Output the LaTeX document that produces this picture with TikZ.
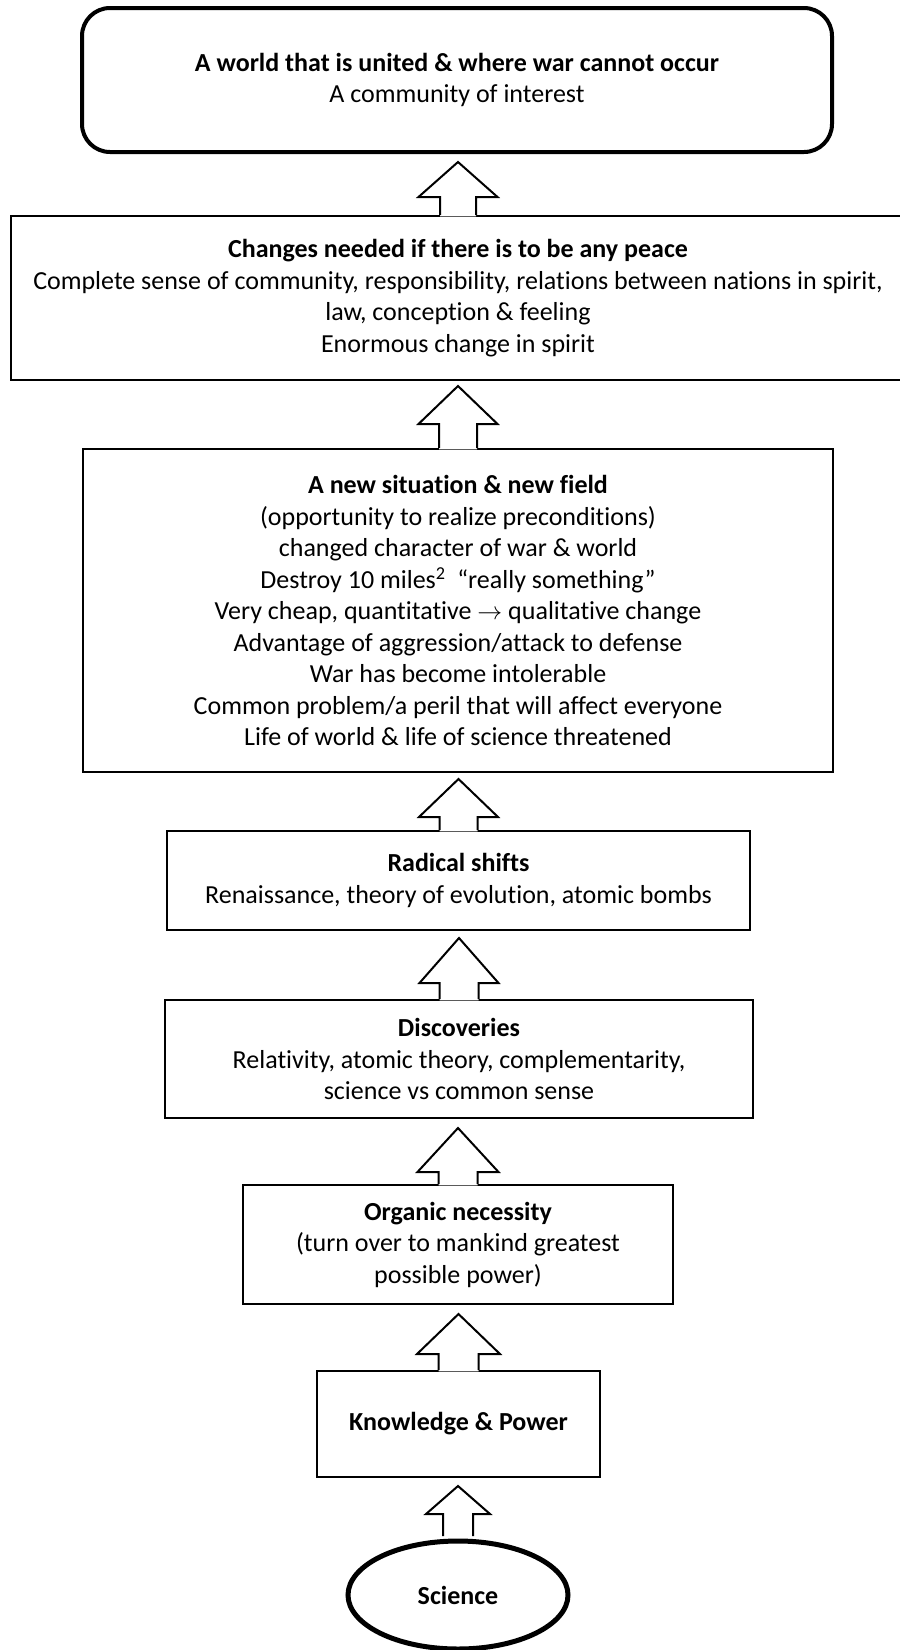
\documentclass[tikz,border=0pt]{standalone}
\usepackage{fontspec}
\setmainfont{Carlito}[Ligatures=NoCommon]
\usetikzlibrary{shapes.geometric,calc}

% Hollow block arrow pointing up from the top of #1 to just below #2.
% #3 shaft half width, #4 head half width, #5 head height, #6 gap under #2,
% #7 raise of the outline foot, #8 depth the white fill reaches into #1.
\newcommand\upblock[8]{%
  \fill[white] let \p1=(#1.north), \p2=(#2.south) in
    (\x1-#3pt,\y1+#7pt-#8pt) -- (\x1-#3pt,\y2-#6pt-#5pt) -- (\x1-#4pt,\y2-#6pt-#5pt)
    -- (\x1,\y2-#6pt) -- (\x1+#4pt,\y2-#6pt-#5pt) -- (\x1+#3pt,\y2-#6pt-#5pt)
    -- (\x1+#3pt,\y1+#7pt-#8pt) -- cycle;
  \draw[blk] let \p1=(#1.north), \p2=(#2.south) in
    (\x1-#3pt,\y1+#7pt) -- (\x1-#3pt,\y2-#6pt-#5pt) -- (\x1-#4pt,\y2-#6pt-#5pt)
    -- (\x1,\y2-#6pt) -- (\x1+#4pt,\y2-#6pt-#5pt) -- (\x1+#3pt,\y2-#6pt-#5pt)
    -- (\x1+#3pt,\y1+#7pt);
}

\begin{document}
\begin{tikzpicture}[x=1pt,y=-1pt,
  txt/.style={inner sep=0pt,align=center,text=black,
    font=\fontsize{26}{31.5}\selectfont},
  box/.style={txt,draw=black,line width=2pt,fill=white},
  goal/.style={txt,draw=black,line width=4pt,fill=white,rounded corners=28pt},
  root/.style={txt,draw=black,line width=5pt,fill=white,ellipse},
  blk/.style={draw=black,line width=2pt,line join=miter}]
\useasboundingbox (0,0) rectangle (900,1650);
\clip (0,0) rectangle (900,1650);
\fill[white] (0,0) rectangle (900,1650);

% Goal at the top
\node[goal,minimum width=750pt,minimum height=144pt] (goal) at (457,80)
  {\textbf{A world that is united \& where war cannot occur}\\A community of interest};

% Stages, from top to bottom
\node[box,minimum width=894pt,minimum height=164pt] (peace) at (458,298)
  {\textbf{Changes needed if there is to be any peace}\\
   Complete sense of community, responsibility, relations between nations in spirit,\\
   law, conception \& feeling\\
   Enormous change in spirit};

\node[box,minimum width=750pt,minimum height=323pt] (field) at (458,610.5)
  {\textbf{A new situation \& new field}\\
   (opportunity to realize preconditions)\\
   changed character of war \& world\\
   Destroy 10 miles\textsuperscript{2}\ \ “really something”\\
   Very cheap, quantitative $\rightarrow$ qualitative change\\
   Advantage of aggression/attack to defense\\
   War has become intolerable\\
   Common problem/a peril that will affect everyone\\
   Life of world \& life of science threatened};

\node[box,minimum width=583pt,minimum height=99pt] (shifts) at (458.5,880.5)
  {\textbf{Radical shifts}\\Renaissance, theory of evolution, atomic bombs};

\node[box,minimum width=588pt,minimum height=118pt] (disc) at (459,1059)
  {\textbf{Discoveries}\\Relativity, atomic theory, complementarity,\\science vs common sense};

\node[box,minimum width=430pt,minimum height=119pt] (organic) at (458,1244.5)
  {\textbf{Organic necessity}\\(turn over to mankind greatest\\possible power)};

\node[box,minimum width=283pt,minimum height=106pt] (know) at (458.5,1424)
  {\textbf{Knowledge \& Power}};

\node[root,minimum width=220pt,minimum height=108pt] (sci) at (458,1595)
  {\textbf{Science}};

% Block arrows between the stages
\upblock{peace}{goal}{18}{39.5}{35}{8}{0}{1.3}
\upblock{field}{peace}{19}{39.5}{38}{5}{0}{1.3}
\upblock{shifts}{field}{19}{39.5}{38}{6}{0}{1.3}
\upblock{disc}{shifts}{19.5}{39.5}{45}{7}{0}{1.3}
\upblock{organic}{disc}{19.5}{40.5}{44}{9}{0}{1.3}
\upblock{know}{organic}{20}{41.5}{40}{9}{0}{1.3}
\upblock{sci}{know}{15}{32}{28}{8}{2.5}{0}
\end{tikzpicture}
\end{document}
